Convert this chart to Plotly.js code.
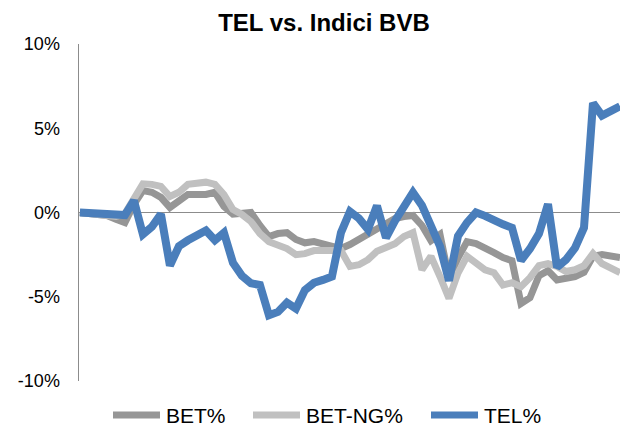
<!DOCTYPE html>
<html>
<head>
<meta charset="utf-8">
<script src="https://cdn.plot.ly/plotly-3.0.1.min.js"></script>
<style>
  html, body { margin: 0; padding: 0; background: #fff; }
  #chart { width: 622px; height: 426px; }
</style>
</head>
<body>
<div id="chart"></div>
<script>
'use strict';

/* eslint-env browser */
/* global Plotly */

// trading day index, one entry per session
const days = [
  0, 1, 2, 3, 4, 5, 6, 7, 8, 9,
  10, 11, 12, 13, 14, 15, 16, 17, 18, 19,
  20, 21, 22, 23, 24, 25, 26, 27, 28, 29,
  30, 31, 32, 33, 34, 35, 36, 37, 38, 39,
  40, 41, 42, 43, 44, 45, 46, 47, 48, 49,
  50, 51, 52, 53, 54, 55, 56, 57, 58, 59, 60,
];

// cumulative change, in percent
const bet = [
  0, -0.06, -0.12, -0.18, -0.4, -0.6, 0.48, 1.3, 1.2, 0.9,
  0.3, 0.7, 1.07, 1.07, 1.07, 1.2, 0.36, -0.1, -0.1, 0,
  -0.77, -1.43, -1.25, -1.2, -1.6, -1.8, -1.73, -1.85, -1.96, -2.14,
  -1.9, -1.6, -1.3, -0.95, -0.65, -0.36, -0.24, -0.18, -0.77, -1.67,
  -1.3, -3.9, -2.7, -1.73, -1.85, -2.08, -2.38, -2.68, -2.86, -5.4,
  -5.06, -3.75, -3.45, -4.0, -3.95, -3.8, -3.55, -2.6, -2.5, -2.6, -2.68,
];

const betNg = [
  0, -0.04, -0.08, -0.12, -0.24, -0.06, 0.83, 1.7, 1.67, 1.55,
  0.95, 1.2, 1.67, 1.73, 1.8, 1.67, 1.07, 0.18, -0.12, -0.54,
  -1.25, -1.73, -1.96, -2.14, -2.5, -2.44, -2.26, -2.26, -2.26, -2.26,
  -3.2, -3.1, -2.8, -2.3, -2.08, -1.85, -1.43, -1.19, -3.4, -2.6,
  -3.8, -5.1, -3.6, -2.6, -3.0, -3.4, -3.57, -4.3, -4.17, -4.4,
  -3.87, -3.15, -3.04, -3.2, -3.5, -3.4, -3.15, -2.44, -3.04, -3.3, -3.57,
];

const tel = [
  0, -0.02, -0.02, -0.05, -0.1, -0.15, 0.71, -1.3, -0.85, -0.1,
  -3.15, -2.0, -1.65, -1.3, -1.07, -1.65, -1.2, -2.98, -3.75, -4.2,
  -4.3, -6.1, -5.9, -5.35, -5.7, -4.6, -4.17, -4.0, -3.8, -1.2,
  0.06, -0.35, -1.0, 0.4, -1.5, -0.5, 0.42, 1.19, 0.42, -0.95,
  -2.0, -4.05, -1.4, -0.6, 0, -0.2, -0.5, -0.7, -0.9, -2.85,
  -2.15, -1.25, 0.5, -3.25, -2.8, -2.1, -0.9, 6.5, 5.75, 6.0, 6.3,
];

const seriesNames = ['BET%', 'BET-NG%', 'TEL%'];
const seriesColors = ['#969696', '#c0c0c0', '#4a7ebb'];

const yTickVals = [-10, -5, 0, 5, 10];
const yTickText = ['-10%', '-5%', '0%', '5%', '10%'];

const FONT = '"Liberation Sans", Arial, sans-serif';

// plot box in page pixels, used to place the hand drawn legend
const PLOT = {left: 79, right: 620, top: 44, bottom: 381};

function toPaperX(px) {
  return (px - PLOT.left) / (PLOT.right - PLOT.left);
}

function toPaperY(py) {
  return (PLOT.bottom - py) / (PLOT.bottom - PLOT.top);
}

function buildLegend() {
  // symbol start x for each entry, in pixels
  const starts = [110, 250, 428];
  const symbolLength = 53;
  const legendY = toPaperY(415);
  const shapes = [];
  const annotations = [];
  starts.forEach((x0, i) => {
    shapes.push({
      type: 'line',
      xref: 'paper', yref: 'paper',
      x0: toPaperX(x0 + 3), x1: toPaperX(x0 + symbolLength - 3),
      y0: legendY, y1: legendY,
      line: {color: seriesColors[i], width: 7},
    });
    annotations.push({
      xref: 'paper', yref: 'paper',
      x: toPaperX(x0 + symbolLength + 1), y: legendY,
      xanchor: 'left', yanchor: 'middle',
      text: seriesNames[i],
      showarrow: false,
      font: {family: FONT, size: 21, color: '#000'},
    });
  });
  return {shapes, annotations};
}

function main() {
  const values = [bet, betNg, tel];
  const widths = [7, 7, 8];
  const data = values.map((y, i) => ({
    x: days,
    y: y,
    type: 'scatter',
    mode: 'lines',
    name: seriesNames[i],
    line: {color: seriesColors[i], width: widths[i]},
    hoverinfo: 'skip',
  }));

  const legend = buildLegend();

  const layout = {
    width: 622,
    height: 426,
    margin: {l: PLOT.left, r: 622 - PLOT.right, t: PLOT.top, b: 426 - PLOT.bottom, pad: 0},
    paper_bgcolor: '#fff',
    plot_bgcolor: '#fff',
    showlegend: false,
    title: {
      text: 'TEL vs. Indici BVB',
      xref: 'container', yref: 'container',
      x: 324 / 622, y: 1 - 22.5 / 426,
      xanchor: 'center', yanchor: 'middle',
      font: {family: FONT, size: 24, color: '#000', weight: 'bold'},
    },
    xaxis: {
      range: [-0.1, 60],
      showgrid: false,
      zeroline: false,
      showline: false,
      showticklabels: false,
      ticks: '',
      fixedrange: true,
    },
    yaxis: {
      range: [-10, 10],
      tickvals: yTickVals,
      ticktext: yTickText,
      showgrid: false,
      showline: true,
      linecolor: '#8c8c8c',
      linewidth: 1.5,
      zeroline: true,
      zerolinecolor: '#8c8c8c',
      zerolinewidth: 1.5,
      ticks: '',
      ticklabelstandoff: 14,
      tickfont: {family: FONT, size: 18, color: '#000'},
      fixedrange: true,
    },
    shapes: legend.shapes,
    annotations: legend.annotations,
  };

  Plotly.newPlot('chart', data, layout, {displayModeBar: false, staticPlot: true});
}

main();
</script>
</body>
</html>
